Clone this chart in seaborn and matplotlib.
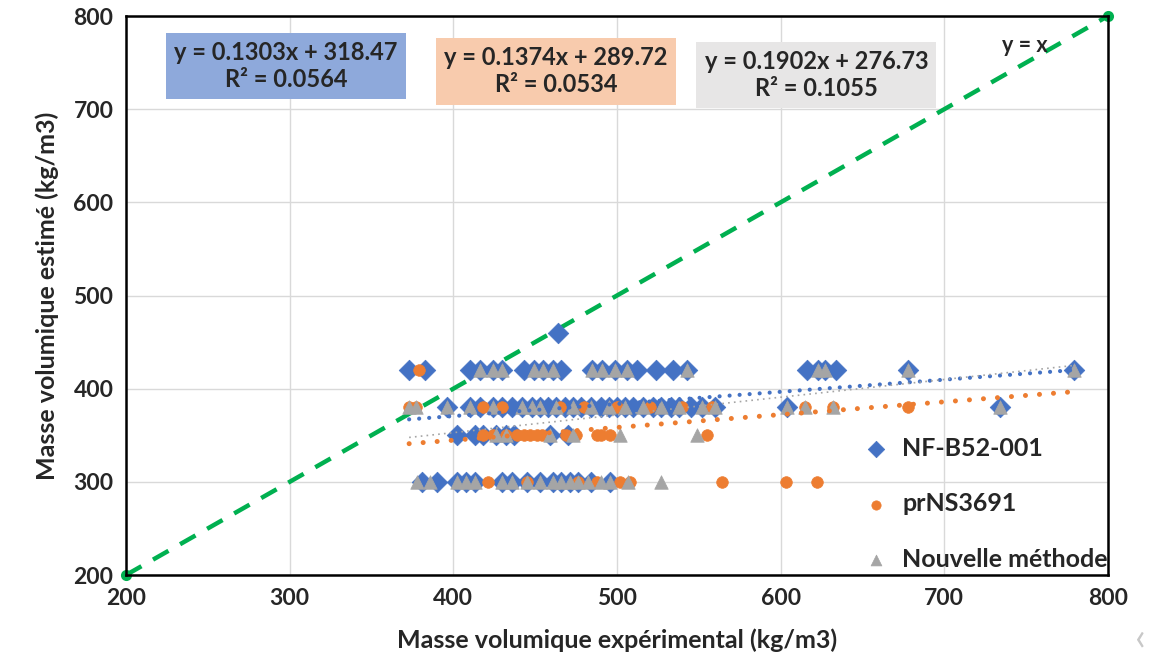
import seaborn as sns
import matplotlib.pyplot as plt

nf_x = [464,
        373, 383, 410, 416, 424, 430, 443, 449, 455, 461, 466, 485, 491, 499, 506, 512, 524, 534, 543,
        616, 623, 627, 634, 678, 779,
        396, 410, 416, 424, 430, 436, 442, 448, 453, 458, 463, 468, 473, 478, 484, 490, 495, 500, 505,
        510, 516, 522, 527, 533, 538, 545, 552, 560, 604, 734,
        402, 413, 418, 426, 432, 437, 459, 470,
        381, 390, 402, 408, 413, 430, 436, 445, 453, 461, 466, 471, 476, 484, 496]
nf_y = [460] + [420] * 25 + [380] * 30 + [350] * 8 + [300] * 15

pr_x = [379,
        373, 377, 418, 430, 465, 480, 500, 520, 540, 558, 615, 632, 678,
        418, 424, 432, 439, 443, 447, 451, 454, 469, 475, 488, 490, 496, 555,
        421, 445, 476, 488, 502, 508, 564, 603, 622]
pr_y = [420] + [380] * 13 + [350] * 14 + [300] * 9

nm_x = [416, 424, 430, 449, 455, 461, 485, 491, 499, 506, 543, 623, 627, 678, 779,
        373, 377, 396, 410, 424, 442, 448, 453, 463, 473, 484, 495, 505, 516, 527, 538, 552, 560,
        604, 615, 632, 734,
        426, 432, 459, 473, 502, 549,
        378, 386, 402, 408, 413, 430, 436, 445, 453, 461, 466, 471, 476, 482, 490, 496, 507, 527]
nm_y = [420] * 15 + [380] * 22 + [350] * 6 + [300] * 18

# Courbes de tendance (équations affichées)
trend_nf = (0.1303, 318.47, 0.0564)
trend_pr = (0.1374, 289.72, 0.0534)
trend_nm = (0.1902, 276.73, 0.1055)

identity = [200, 800]

blue = '#4472C4'
orange = '#ED7D31'
gray = '#A5A5A5'
green = '#00B050'

sns.set_style('white')
plt.rcParams['font.family'] = ['Lato', 'DejaVu Sans']

fig = plt.figure(figsize=(11.58, 6.62), dpi=100)
ax = fig.add_axes([0.1088, 0.1314, 0.848, 0.8444])

ax.grid(True, color='#D9D9D9', linewidth=1)
ax.set_axisbelow(True)

# droite y = x
sns.lineplot(x=identity, y=identity, ax=ax, color=green, linewidth=3.2,
             linestyle=(0, (4, 3)), marker='o', markersize=8, markeredgewidth=0,
             zorder=2, clip_on=False)

# nuages de points
sns.scatterplot(x=nf_x, y=nf_y, ax=ax, marker='D', s=110, color=blue,
                edgecolor=blue, linewidth=0.5, zorder=3, label='NF-B52-001')
sns.scatterplot(x=pr_x, y=pr_y, ax=ax, marker='o', s=70, color=orange,
                edgecolor=orange, linewidth=0.5, zorder=4, label='prNS3691')
sns.scatterplot(x=nm_x, y=nm_y, ax=ax, marker='^', s=95, color=gray,
                edgecolor=gray, linewidth=0.5, zorder=5, label='Nouvelle méthode')

# courbes de tendance
xmin = min(nf_x + pr_x + nm_x)
xmax = max(nf_x + pr_x + nm_x)
for (a, b, r2), col, lw, ls, cap in [
        (trend_nf, blue, 3.0, (0, (0.01, 2.4)), 'round'),
        (trend_pr, orange, 3.6, (0, (0.01, 2.8)), 'round'),
        (trend_nm, gray, 1.2, (0, (1, 2.5)), 'butt')]:
    tx = [xmin, xmax]
    ty = [a * v + b for v in tx]
    ln, = ax.plot(tx, ty, color=col, linewidth=lw, linestyle=ls, zorder=6)
    ln.set_dash_capstyle(cap)

# équations
boxes = [(trend_nf, '#8EA9DB', 0.163, 0.911), (trend_pr, '#F8CBAD', 0.438, 0.901),
         (trend_nm, '#E7E6E6', 0.703, 0.894)]
for (a, b, r2), fc, xp, yp in boxes:
    ax.text(xp, yp, f'y = {a:.4f}x + {b:.2f}\nR² = {r2:.4f}', transform=ax.transAxes,
            ha='center', va='center', fontsize=17, fontweight='bold', linespacing=1.2,
            bbox=dict(boxstyle='square,pad=0.35', facecolor=fc, edgecolor='none'), zorder=7)
ax.text(0.915, 0.948, 'y = x', transform=ax.transAxes, ha='center', va='center',
        fontsize=15.5, fontweight='bold')

ax.set_xlim(200, 800)
ax.set_ylim(200, 800)
ax.set_xticks(range(200, 801, 100))
ax.set_yticks(range(200, 801, 100))
ax.tick_params(labelsize=16.5, length=0, pad=9)
for t in ax.get_xticklabels() + ax.get_yticklabels():
    t.set_fontweight('bold')
ax.set_xlabel('Masse volumique expérimental (kg/m3)', fontsize=18, fontweight='bold', labelpad=14)
ax.set_ylabel('Masse volumique estimé (kg/m3)', fontsize=18, fontweight='bold', labelpad=10)

for s in ax.spines.values():
    s.set_visible(True)
    s.set_color('black')
    s.set_linewidth(1.8)

leg = ax.legend(loc='lower left', bbox_to_anchor=(0.728, -0.01), frameon=False,
                fontsize=18, labelspacing=1.3, handletextpad=0.05, markerscale=0.8,
                borderaxespad=0.0)
for t in leg.get_texts():
    t.set_fontweight('bold')

fig.text(0.985, 0.035, '‹', fontsize=28, color='#C8C8C8', ha='center', va='center')

plt.savefig('out.png', dpi=100)
